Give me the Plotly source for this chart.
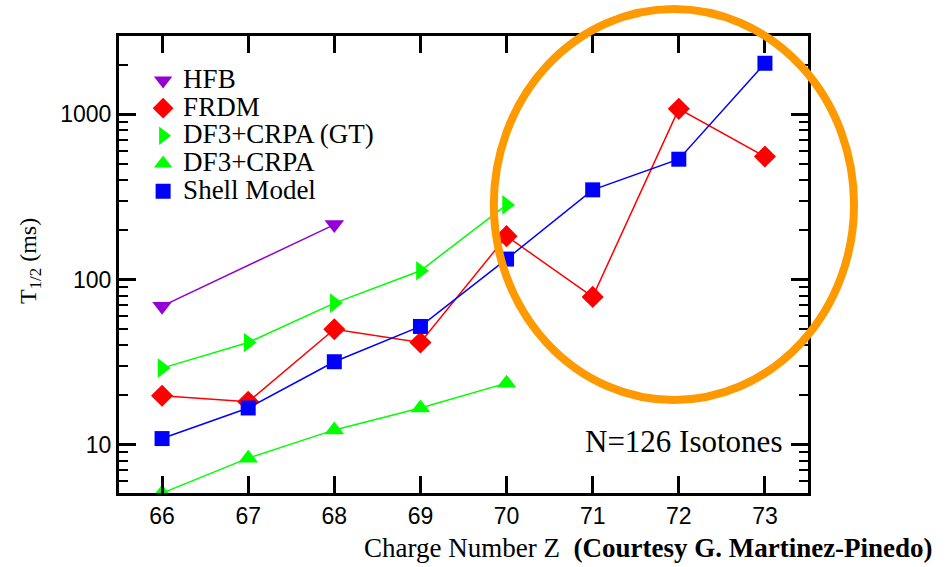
import plotly.graph_objects as go

# Data (T1/2 in ms vs charge number Z, N=126 isotones)
z_hfb = [66, 68]
t_hfb = [69, 215]

z_frdm = [66, 67, 68, 69, 70, 71, 72, 73]
t_frdm = [19.8, 18.2, 50, 41.6, 183, 78.5, 1079, 555]

z_gt = [66, 67, 68, 69, 70]
t_gt = [29.1, 41.6, 72, 113, 283]

z_df3 = [66, 67, 68, 69, 70]
t_df3 = [5.1, 8.3, 12.3, 16.7, 23.6]

z_sm = [66, 67, 68, 69, 70, 71, 72, 73]
t_sm = [10.9, 16.7, 31.8, 52, 133, 349, 535, 2037]

x_ticks = [66, 67, 68, 69, 70, 71, 72, 73]

series = [
    ("HFB", z_hfb, t_hfb, "#9400D3", "triangle-down", 17),
    ("FRDM", z_frdm, t_frdm, "#FF0000", "diamond", 17),
    ("DF3+CRPA (GT)", z_gt, t_gt, "#00FF00", "triangle-right", 17),
    ("DF3+CRPA", z_df3, t_df3, "#00FF00", "triangle-up", 17),
    ("Shell Model", z_sm, t_sm, "#0000FF", "square", 15),
]

SERIF = "Liberation Serif, Times New Roman, serif"
SANS = "Liberation Sans, Arial, sans-serif"

fig = go.Figure()
for name, xs, ys, col, sym, sz in series:
    fig.add_trace(go.Scatter(
        x=xs, y=ys, mode="lines+markers", showlegend=False,
        line=dict(color=col, width=1.5),
        marker=dict(color=col, symbol=sym, size=sz),
    ))
for name, xs, ys, col, sym, sz in series:
    fig.add_trace(go.Scatter(
        x=[None], y=[None], mode="markers",
        name='<span style="font-size:27px">' + name + '</span>',
        marker=dict(color=col, symbol=sym, size=sz),
    ))

axis_common = dict(
    showline=True, linecolor="black", linewidth=3, mirror="ticks",
    ticks="inside", tickcolor="black", tickwidth=2.5,
    showgrid=False, zeroline=False,
    tickfont=dict(family=SANS, size=23, color="black"),
)

fig.update_xaxes(
    range=[65.5, 73.5], tickvals=x_ticks, ticklen=17, **axis_common
)
fig.update_yaxes(
    type="log", range=[0.708, 3.474], tickvals=[10, 100, 1000],
    ticktext=["10", "100", "1000"], ticklen=17,
    minor=dict(ticks="inside", ticklen=9, tickwidth=2, tickcolor="black",
               tickvals=[6, 7, 8, 9, 20, 30, 40, 50, 60, 70, 80, 90,
                         200, 300, 400, 500, 600, 700, 800, 900, 2000, 3000]),
    **axis_common
)

fig.update_layout(
    width=947, height=567,
    margin=dict(l=119, r=139, t=36, b=74),
    paper_bgcolor="white", plot_bgcolor="white",
    legend=dict(
        x=0.035, y=0.944, xanchor="left", yanchor="top",
        bgcolor="rgba(0,0,0,0)", font=dict(family=SERIF, size=19, color="black"),
        itemwidth=30,
    ),
    shapes=[dict(
        type="circle", xref="paper", yref="paper",
        x0=0.544, x1=1.0668, y0=0.2035, y1=1.059,
        line=dict(color="#FF9900", width=8),
    )],
    annotations=[
        dict(text="N=126 Isotones", xref="paper", yref="paper",
             x=0.8186, y=0.1116, xanchor="center", yanchor="middle",
             showarrow=False, font=dict(family=SERIF, size=31, color="black")),
        dict(text="Charge Number Z  <b>(Courtesy G. Martinez-Pinedo)</b>",
             xref="paper", yref="paper", x=0.3527, y=-0.12,
             xanchor="left", yanchor="middle", showarrow=False,
             font=dict(family=SERIF, size=27, color="black")),
        dict(text="T<sub>1/2</sub> (ms)", xref="paper", yref="paper",
             x=-0.129, y=0.508, xanchor="center", yanchor="middle",
             textangle=-90, showarrow=False,
             font=dict(family=SERIF, size=24, color="black")),
    ],
)

fig.write_html("out.html")
